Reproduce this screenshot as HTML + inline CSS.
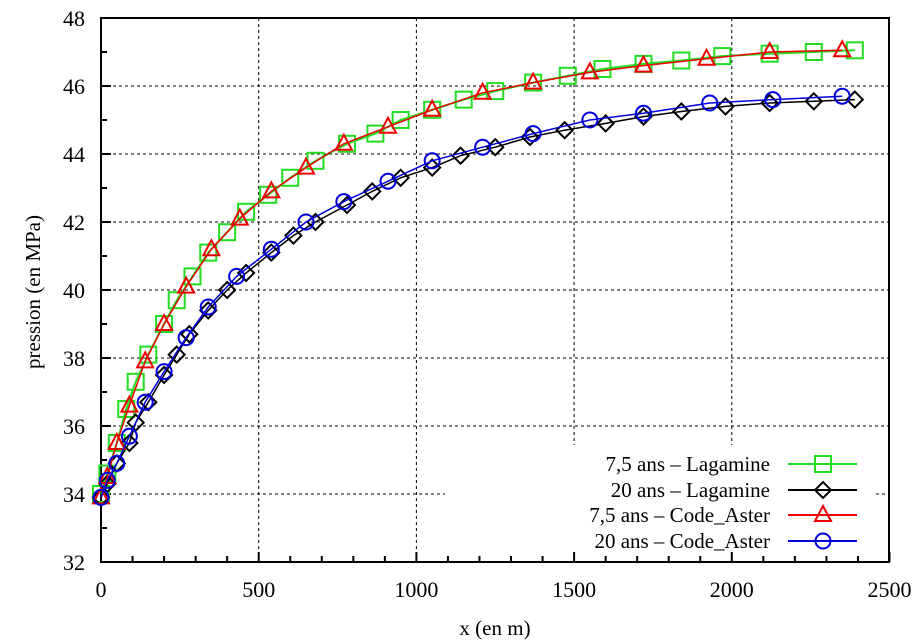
<!DOCTYPE html>
<html><head><meta charset="utf-8"><style>
html,body{margin:0;padding:0;background:#fff;}
svg{display:block;font-family:"Liberation Serif",serif;}
</style></head><body>
<svg id="s" width="920" height="640" xmlns="http://www.w3.org/2000/svg"></svg>
<script>
const s=document.getElementById('s');
const X=v=>101+v*0.3154, Y=v=>562-(v-32)*34;
let h='';
const dash='stroke="#000" stroke-width="1" stroke-dasharray="3,3"';
for(const v of [34,36,38,40,42,44,46]){
  const xe = v==34?445:889;
  h+=`<line x1="101" y1="${Y(v)}" x2="${xe}" y2="${Y(v)}" ${dash}/>`;
  if(v==34) h+=`<line x1="876" y1="${Y(v)}" x2="889" y2="${Y(v)}" ${dash}/>`;
}
for(const v of [500,1000,1500,2000]){
  const ye = v>=1500?445:562;
  h+=`<line x1="${X(v)}" y1="18" x2="${X(v)}" y2="${ye}" ${dash}/>`;
}
for(let v=32;v<=48;v++){const L=v%2?6:10;h+=`<line x1="101" y1="${Y(v)}" x2="${101+L}" y2="${Y(v)}" stroke="#000" stroke-width="2"/>`;}
for(let v=0;v<=2500;v+=100){const L=v%500?6:10;h+=`<line x1="${X(v)}" y1="562" x2="${X(v)}" y2="${562-L}" stroke="#000" stroke-width="2"/>`;}
h+=`<rect x="101" y="18" width="788" height="544" fill="none" stroke="#000" stroke-width="2"/>`;
for(let v=32;v<=48;v+=2)h+=`<text x="85" y="${Y(v)+8}" font-size="22" text-anchor="end">${v}</text>`;
for(let v=0;v<=2500;v+=500)h+=`<text x="${X(v)}" y="597" font-size="22" text-anchor="middle">${v}</text>`;
h+=`<text x="495" y="635" font-size="21" text-anchor="middle">x (en m)</text>`;
h+=`<text transform="translate(40,292) rotate(-90)" font-size="21" text-anchor="middle">pression (en MPa)</text>`;
const G=[[0,34.0],[20,34.6],[50,35.5],[80,36.5],[110,37.3],[150,38.1],[200,39.0],[240,39.7],[290,40.4],[340,41.1],[400,41.7],[460,42.3],[530,42.8],[600,43.3],[680,43.8],[780,44.3],[870,44.6],[950,45.0],[1050,45.3],[1150,45.6],[1250,45.85],[1370,46.1],[1480,46.3],[1590,46.5],[1720,46.65],[1840,46.75],[1970,46.88],[2120,46.95],[2260,47.0],[2390,47.05]];
const R=[[0,33.9],[20,34.5],[50,35.5],[90,36.6],[140,37.9],[200,39.0],[270,40.1],[350,41.2],[440,42.1],[540,42.9],[650,43.6],[770,44.3],[910,44.8],[1050,45.3],[1210,45.8],[1370,46.1],[1550,46.4],[1720,46.6],[1920,46.8],[2120,47.0],[2350,47.05]];
const K=[[0,33.9],[20,34.3],[50,34.9],[90,35.5],[110,36.1],[150,36.7],[200,37.5],[240,38.1],[280,38.7],[340,39.4],[400,40.0],[460,40.5],[540,41.1],[610,41.6],[680,42.0],[780,42.5],[860,42.9],[950,43.3],[1050,43.6],[1140,43.95],[1250,44.2],[1360,44.5],[1470,44.7],[1600,44.9],[1720,45.1],[1840,45.25],[1980,45.4],[2120,45.5],[2260,45.55],[2390,45.6]];
const B=[[0,33.9],[20,34.4],[50,34.9],[90,35.7],[140,36.7],[200,37.6],[270,38.6],[340,39.5],[430,40.4],[540,41.2],[650,42.0],[770,42.6],[910,43.2],[1050,43.8],[1210,44.2],[1370,44.6],[1550,45.0],[1720,45.2],[1930,45.5],[2130,45.6],[2350,45.7]];
function mk(t,x,y,c){
  if(t=='sq')return `<rect x="${x-8}" y="${y-8}" width="16" height="16" fill="none" stroke="${c}" stroke-width="2"/>`;
  if(t=='di')return `<polygon points="${x},${y-8} ${x+8},${y} ${x},${y+8} ${x-8},${y}" fill="none" stroke="${c}" stroke-width="2"/>`;
  if(t=='tr')return `<polygon points="${x},${y-9} ${x+8},${y+6} ${x-8},${y+6}" fill="none" stroke="${c}" stroke-width="2"/>`;
  return `<circle cx="${x}" cy="${y}" r="7.5" fill="none" stroke="${c}" stroke-width="2"/>`;
}
function ser(d,c,t,lw){
  h+=`<polyline points="${d.map(p=>X(p[0])+','+Y(p[1])).join(' ')}" fill="none" stroke="${c}" stroke-width="${lw}"/>`;
  for(const p of d)h+=mk(t,X(p[0]),Y(p[1]),c);
}
ser(G,'#22dd22','sq',2);ser(K,'#000','di',1.5);ser(R,'#ee0000','tr',1.5);ser(B,'#0000dd','ci',1.5);
const L=[['7,5 ans – Lagamine','#22dd22','sq',464],['20 ans – Lagamine','#000','di',490],['7,5 ans – Code_Aster','#ee0000','tr',515],['20 ans – Code_Aster','#0000dd','ci',541]];
for(const [t,c,m,y] of L){
  h+=`<text x="770" y="${y+7}" font-size="21" text-anchor="end">${t}</text>`;
  h+=`<line x1="788" y1="${y}" x2="857" y2="${y}" stroke="${c}" stroke-width="2"/>`+mk(m,823,y,c);
}
s.innerHTML=h;
</script>
</body></html>
